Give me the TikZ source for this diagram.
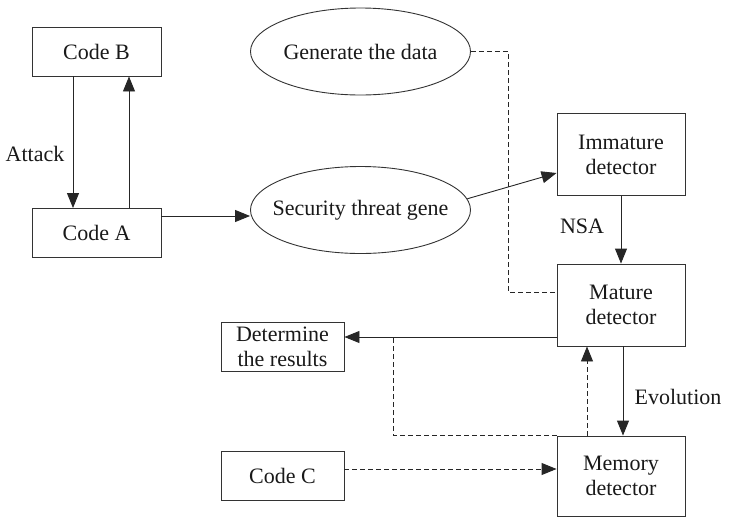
\documentclass[tikz,border=0pt]{standalone}
\usepackage{fontspec}
\setmainfont{Liberation Serif}
\usetikzlibrary{arrows.meta,shapes.geometric}
\tikzset{
  codebox/.style={rectangle, draw=black!80, line width=0.9pt, minimum width=129pt, minimum height=49pt, inner sep=0pt},
  detector/.style={rectangle, draw=black!80, line width=0.9pt, minimum width=128pt, minimum height=82pt, inner sep=0pt, align=center},
  smallbox/.style={rectangle, draw=black!80, line width=0.9pt, minimum width=123pt, minimum height=49pt, inner sep=0pt, align=center},
  gene/.style={ellipse, draw=black!80, line width=0.9pt, minimum width=220pt, minimum height=87pt, inner xsep=-11pt, inner ysep=0pt},
  flow/.style={draw=black!85, line width=0.9pt, -{Triangle[width=12pt,length=15pt]}},
  dashflow/.style={flow, dash pattern=on 5pt off 3pt},
  dashline/.style={draw=black!85, line width=0.9pt, dash pattern=on 5pt off 3pt}
}

\begin{document}
\begin{tikzpicture}[x=1pt, y=-1pt, font=\fontsize{22}{25}\selectfont, text=black!90]
  \useasboundingbox (0,0) rectangle (744,517);

  \node[codebox] (codeB) at (96.5,51.5) {Code B};
  \node[codebox] (codeA) at (96.5,233) {Code A};
  \node[gene] (gendata) at (360.5,51.5) {Generate the data};
  \node[gene] (threat) at (360.5,210) {Security threat gene};
  \node[detector] (immature) at (621,154.5) {Immature\\detector};
  \node[detector] (mature) at (621,305) {Mature\\detector};
  \node[detector, minimum height=80pt] (memory) at (621,476) {Memory\\detector};
  \node[smallbox] (results) at (282.5,346.5) {Determine\\the results};
  \node[smallbox] (codeC) at (282.5,476) {Code C};

  \node (attack) at (35,154) {Attack};
  \node (nsa) at (582,226) {NSA};
  \node (evolution) at (678,397) {Evolution};

  \coordinate (gbend) at (508,292);
  \coordinate (fork) at (393,337);

  \draw[flow] ([xshift=-23.5pt]codeB.south) -- ([xshift=-23.5pt]codeA.north);
  \draw[flow] ([xshift=32.5pt]codeA.north) -- ([xshift=32.5pt]codeB.south);
  \draw[flow] ([yshift=17pt]codeA.east) -- ([yshift=17pt]codeA.east -| threat.west);
  \draw[flow] (threat.6) -- ([yshift=-18.5pt]immature.west);
  \draw[flow] (immature.south) -- (mature.north);
  \draw[dashline] (gendata.east) -| (gbend) -- (gbend -| mature.west);
  \draw[flow] ([yshift=-32pt]mature.west) -- ([yshift=-32pt]mature.west -| results.east);
  \draw[dashline] (memory.north west) -| (fork);
  \draw[dashflow] ([xshift=-34pt]memory.north) -- ([xshift=-34pt]mature.south);
  \draw[flow] ([xshift=2pt]mature.south) -- ([xshift=2pt]memory.north);
  \draw[dashflow] ([yshift=7pt]codeC.east) -- ([yshift=7pt]codeC.east -| memory.west);
\end{tikzpicture}
\end{document}
